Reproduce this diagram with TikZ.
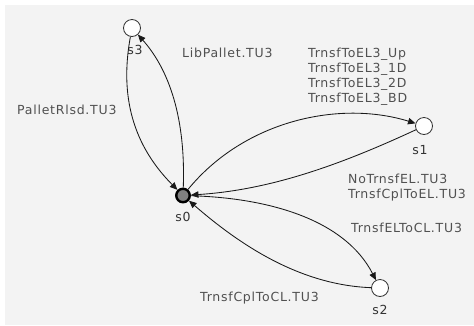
\documentclass[tikz,border=0pt]{standalone}
\usepackage{fontspec}
\setmainfont{DejaVu Sans}[LetterSpace=6]
\usetikzlibrary{arrows.meta}
\definecolor{panelbg}{RGB}{243,243,243}
\definecolor{labeltext}{RGB}{80,80,80}
\definecolor{initfill}{RGB}{128,128,128}
\begin{document}
\begin{tikzpicture}[x=1pt,y=-1pt,
  state/.style={circle,draw=black!80,fill=white,line width=0.8pt,minimum size=17pt,inner sep=0pt},
  initstate/.style={circle,draw=black,fill=initfill,line width=2.4pt,minimum size=13.5pt,inner sep=0pt},
  evlabel/.style={anchor=base west,inner sep=0pt,text=labeltext,font=\fontsize{12.5pt}{15pt}\selectfont},
  statename/.style={anchor=base,inner sep=0pt,text=black!80,font=\fontsize{12.5pt}{15pt}\selectfont},
  trans/.style={draw=black!90,line width=0.85pt,-{Triangle[length=7.5pt,width=6.5pt]}}]

% canvas
\useasboundingbox (0,0) rectangle (474,325);
\fill[white] (0,0) rectangle (474,325);
\fill[panelbg] (5,5) rectangle (474,325);

% states
\node[initstate] (s0) at (183,195.5) {};
\node[state] (s1) at (424,126) {};
\node[state] (s2) at (380,288) {};
\node[state] (s3) at (132,28) {};

\node[statename] (n0) at (183,221.5) {s0};
\node[statename] (n1) at (420,154.5) {s1};
\node[statename] (n2) at (380,314.5) {s2};
\node[statename] (n3) at (135,54.5) {s3};

% transitions
\draw[trans] (s0) .. controls (186,110) and (165,65) .. (s3);
\draw[trans] (s3) .. controls (121,88) and (128,140) .. (s0);
\draw[trans] (s0) .. controls (245,120) and (340,100) .. (s1);
\draw[trans] (s1) .. controls (340,165) and (270,190) .. (s0);
\draw[trans] (s0) .. controls (270,198) and (345,220) .. (s2);
\draw[trans] (s2) .. controls (300,285) and (240,245) .. (s0);

% event labels
\node[evlabel] (e30) at (182,57.5) {LibPallet.TU3};
\node[evlabel] (e03) at (17,114.5) {PalletRlsd.TU3};
\node[evlabel] (e01a) at (308,57.5) {TrnsfToEL3\_Up};
\node[evlabel] (e01b) at (308,72.5) {TrnsfToEL3\_1D};
\node[evlabel] (e01c) at (308,87.5) {TrnsfToEL3\_2D};
\node[evlabel] (e01d) at (308,102.5) {TrnsfToEL3\_BD};
\node[evlabel] (e10a) at (348,183.5) {NoTrnsfEL.TU3};
\node[evlabel] (e10b) at (348,198) {TrnsfCplToEL.TU3};
\node[evlabel] (e02) at (351,232.5) {TrnsfELToCL.TU3};
\node[evlabel] (e20) at (200,301.5) {TrnsfCplToCL.TU3};
\end{tikzpicture}
\end{document}
